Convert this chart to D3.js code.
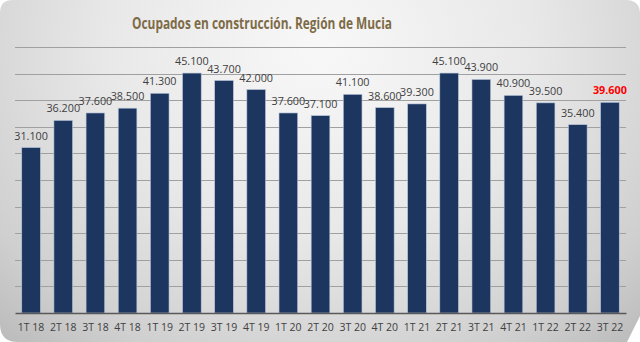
<!DOCTYPE html>
<html>
<head>
<meta charset="utf-8">
<script src="https://cdn.jsdelivr.net/npm/d3@7"></script>
<style>
    html, body { margin: 0; padding: 0; background: #ffffff; }
    svg { display: block; }
</style>
</head>
<body>
<svg id="chart"></svg>
<script>
const title = "Ocupados en construcción. Región de Mucia"
const quarters = ["1T 18", "2T 18", "3T 18", "4T 18", "1T 19", "2T 19", "3T 19", "4T 19",
    "1T 20", "2T 20", "3T 20", "4T 20", "1T 21", "2T 21", "3T 21", "4T 21", "1T 22", "2T 22", "3T 22"]
const ocupados = [31100, 36200, 37600, 38500, 41300, 45100, 43700, 42000,
    37600, 37100, 41100, 38600, 39300, 45100, 43900, 40900, 39500, 35400, 39600]
const yTicks = [0, 5000, 10000, 15000, 20000, 25000, 30000, 35000, 40000, 45000, 50000]

const w = 640
const h = 342
const margin = { top: 47, right: 14, bottom: 29, left: 15 }

const es = d3.formatLocale({ decimal: ",", thousands: ".", grouping: [3], currency: ["", "€"] })
const fmt = es.format(",d")

const svg = d3.select("#chart")
    .attr("width", w)
    .attr("height", h)

// panel background
const defs = svg.append("defs")
const grad = defs.append("radialGradient")
    .attr("id", "panelGrad")
    .attr("cx", "50%").attr("cy", "15%")
    .attr("r", "75%")
    .attr("gradientTransform", "translate(0.5 0.15) scale(1 1.6) translate(-0.5 -0.15)")
grad.append("stop").attr("offset", "0%").attr("stop-color", "#f8f8f8")
grad.append("stop").attr("offset", "45%").attr("stop-color", "#e8e8e8")
grad.append("stop").attr("offset", "80%").attr("stop-color", "#cfcfcf")
grad.append("stop").attr("offset", "100%").attr("stop-color", "#b7b7b7")

const panel = d3.path()
panel.moveTo(13, 0)
panel.lineTo(626, 0)
panel.quadraticCurveTo(640, 0, 640, 14)
panel.lineTo(640, 316)
panel.lineTo(627, 342)
panel.lineTo(18, 342)
panel.quadraticCurveTo(0, 342, 0, 324)
panel.lineTo(0, 13)
panel.quadraticCurveTo(0, 0, 13, 0)
panel.closePath()

svg.append("path")
    .attr("d", panel.toString())
    .attr("fill", "url(#panelGrad)")

svg.append("text")
    .attr("x", 262)
    .attr("y", 29)
    .attr("text-anchor", "middle")
    .attr("font-family", "'Open Sans', sans-serif")
    .attr("font-weight", 700)
    .attr("font-size", 16)
    .attr("textLength", 260)
    .attr("lengthAdjust", "spacingAndGlyphs")
    .attr("fill", "#7d6b47")
    .text(title)

const x = d3.scaleBand()
    .domain(quarters)
    .range([margin.left, w - margin.right])
    .paddingInner(0.42)
    .paddingOuter(0.21)

const y = d3.scaleLinear()
    .domain([0, 50000])
    .range([h - margin.bottom, margin.top])

// gridlines
svg.append("g")
    .selectAll("line")
    .data(yTicks.slice(1))
    .join("line")
    .attr("x1", margin.left)
    .attr("x2", w - margin.right)
    .attr("y1", d => Math.round(y(d)) + 0.5)
    .attr("y2", d => Math.round(y(d)) + 0.5)
    .attr("stroke", "#a0a0a0")
    .attr("stroke-width", 1)

// bars
svg.append("g")
    .selectAll("rect")
    .data(ocupados)
    .join("rect")
    .attr("x", (d, i) => x(quarters[i]))
    .attr("y", d => y(d))
    .attr("width", x.bandwidth())
    .attr("height", d => y(0) - y(d))
    .attr("fill", "#1d365f")
    .attr("stroke", "#b8c6dc")
    .attr("stroke-width", 0.6)

// baseline + category labels
const xAxis = d3.axisBottom(x).tickSize(0).tickPadding(11)
const gx = svg.append("g")
    .attr("transform", "translate(0," + y(0) + ")")
    .call(xAxis)
gx.select(".domain")
    .attr("stroke", "#595959")
    .attr("stroke-width", 1.6)
gx.selectAll("text")
    .attr("font-family", "'Open Sans', sans-serif")
    .attr("font-size", 10.5)
    .attr("fill", "#404040")

// value labels, last quarter highlighted
svg.append("g")
    .selectAll("text")
    .data(ocupados)
    .join("text")
    .attr("x", (d, i) => x(quarters[i]) + x.bandwidth() / 2)
    .attr("y", d => y(d) - 8)
    .attr("text-anchor", "middle")
    .attr("font-family", "'Open Sans', sans-serif")
    .attr("font-size", 10.8)
    .attr("font-weight", (d, i) => i === ocupados.length - 1 ? 700 : 400)
    .attr("fill", (d, i) => i === ocupados.length - 1 ? "#ff0000" : "#404040")
    .text(d => fmt(d))
</script>
</body>
</html>
